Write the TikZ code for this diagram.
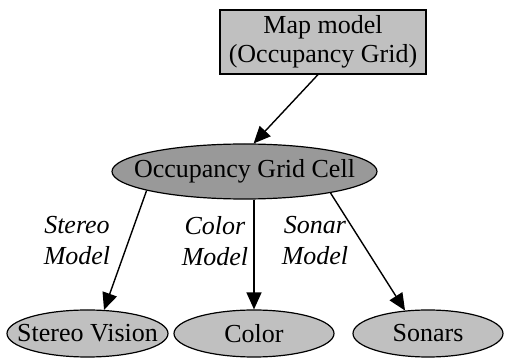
\documentclass[tikz,border=0pt]{standalone}
\usepackage{fontspec}
\setmainfont{Liberation Serif}
\usepackage{tikz}
\usetikzlibrary{shapes.geometric,arrows.meta,positioning}

\definecolor{lightfill}{HTML}{C0C0C0}
\definecolor{darkfill}{HTML}{999999}

\tikzset{
  modelbox/.style={draw,fill=lightfill,line width=0.6pt,align=center,
    minimum width=103pt,minimum height=32pt,inner sep=0pt},
  cellshape/.style={draw,ellipse,fill=darkfill,line width=0.6pt,
    minimum width=132.5pt,minimum height=27.5pt,inner sep=0pt},
  sensorshape/.style={draw,ellipse,fill=lightfill,line width=0.6pt,
    minimum height=23.5pt,inner sep=0pt},
  edgelabel/.style={align=center,font=\itshape\fontsize{13}{15.5}\selectfont},
  arrow/.style={-{Triangle[length=8.5pt,width=7.5pt]},line width=0.7pt}
}

\begin{document}
\begin{tikzpicture}[x=0.5pt,y=-0.5pt,font=\fontsize{13}{14.5}\selectfont]
  \useasboundingbox (0,0) rectangle (505,358);
  \node[modelbox] (map) at (323,42) {Map model\\ (Occupancy Grid)};
  \node[cellshape] (cell) at (244.5,171.5) {\makebox[0pt]{Occupancy Grid Cell}};
  \node[sensorshape,minimum width=80.5pt] (stereo) at (87.5,333.5) {\makebox[0pt]{Stereo Vision}};
  \node[sensorshape,minimum width=80pt] (color) at (254,333.5) {\makebox[0pt]{Color}};
  \node[sensorshape,minimum width=75pt] (sonar) at (428,333.5) {\makebox[0pt]{Sonars}};
  \node[edgelabel] (stereolbl) at (77,241) {Stereo\\ Model};
  \node[edgelabel] (colorlbl) at (215,241) {Color\\ Model};
  \node[edgelabel] (sonarlbl) at (315,241) {Sonar\\ Model};
  \draw[arrow] ([xshift=-2.5pt]map.south) -- (cell.72);
  \draw[arrow] (cell.191) -- (stereo.55);
  \draw[arrow] (color.north |- cell.south) -- (color.north);
  \draw[arrow] (cell.-14) -- (sonar.135);
\end{tikzpicture}
\end{document}
